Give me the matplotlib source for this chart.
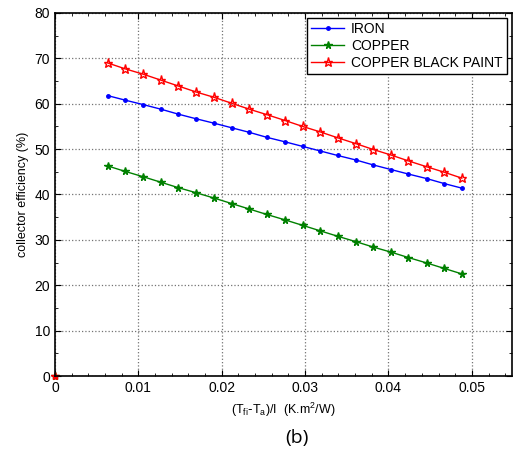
import numpy as np
import matplotlib
matplotlib.use("Agg")
import matplotlib.pyplot as plt
from matplotlib.ticker import MultipleLocator

# reduced temperature parameter (K.m2/W)
x = [0.0063, 0.0084, 0.0106, 0.0127, 0.0148, 0.0169, 0.0191, 0.0212, 0.0233,
     0.0254, 0.0276, 0.0297, 0.0318, 0.0339, 0.0361, 0.0382, 0.0403, 0.0424,
     0.0446, 0.0467, 0.0488]

# collector efficiency (%)
iron = [61.8, 60.8, 59.8, 58.8, 57.7, 56.7, 55.7, 54.7, 53.7, 52.6, 51.6,
        50.6, 49.6, 48.6, 47.6, 46.5, 45.5, 44.5, 43.5, 42.4, 41.4]
copper = [46.3, 45.1, 43.9, 42.7, 41.5, 40.4, 39.2, 38.0, 36.8, 35.6, 34.4,
          33.2, 32.0, 30.8, 29.6, 28.4, 27.3, 26.1, 24.9, 23.7, 22.5]
black_paint = [69.0, 67.7, 66.5, 65.2, 63.9, 62.6, 61.4, 60.1, 58.8, 57.6,
               56.3, 55.0, 53.8, 52.5, 51.2, 49.9, 48.7, 47.4, 46.1, 44.9, 43.6]

labels = ['IRON', 'COPPER', 'COPPER BLACK PAINT']

plt.rcParams['font.family'] = ['Liberation Sans', 'DejaVu Sans']

fig = plt.figure(figsize=(5.16, 4.57), dpi=100)
ax = fig.add_axes([0.1066, 0.1772, 0.8854, 0.7944])

ax.plot(x, iron, color='blue', marker='.', markersize=5, lw=1, label=labels[0])
ax.plot(x, copper, color='green', marker='*', markersize=5.5, lw=1, label=labels[1])
ax.plot(x, black_paint, color='red', marker='*', markersize=6.5, lw=1,
        markerfacecolor='none', label=labels[2])

# origin points
ax.plot([0], [0], color='green', marker='*', markersize=6, clip_on=False)
ax.plot([0], [0], color='red', marker='*', markersize=6, clip_on=False)

ax.set_xlim(0, 0.0548)
ax.set_ylim(0, 80)
ax.xaxis.set_minor_locator(MultipleLocator(0.002))
ax.yaxis.set_major_locator(MultipleLocator(10))
ax.yaxis.set_minor_locator(MultipleLocator(5))
ax.set_xticks([0, 0.01, 0.02, 0.03, 0.04, 0.05])
ax.set_xticklabels(['0', '0.01', '0.02', '0.03', '0.04', '0.05'])
ax.tick_params(which='both', direction='in', top=True, right=True, labelsize=10)
ax.tick_params(which='major', length=4)
ax.tick_params(which='minor', length=2)
ax.grid(True, which='major', color='0.45', linestyle=':', linewidth=0.9)
for s in ax.spines.values():
    s.set_linewidth(1.2)

ax.set_ylabel('collector efficiency (%)', fontsize=9)
ax.set_xlabel(r'$\mathregular{(T_{fi}\text{-}T_a)/I}$  (K.m$\mathregular{^2}$/W)', fontsize=9)

leg = ax.legend(loc='upper right', fontsize=10, fancybox=False, edgecolor='black',
                framealpha=1, borderpad=0.3, labelspacing=0.2, handlelength=2.4,
                handletextpad=0.5, borderaxespad=0.35, numpoints=1)
leg.get_frame().set_linewidth(1.0)

fig.text(0.5755, 0.03, '(b)', fontsize=14, ha='center', family='Open Sans')

fig.savefig('out.png', dpi=100)
